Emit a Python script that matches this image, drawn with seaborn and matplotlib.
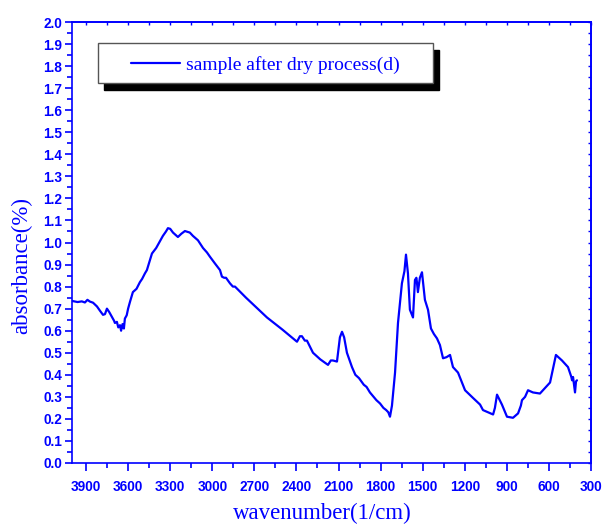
import matplotlib
matplotlib.use("Agg")
import matplotlib.pyplot as plt
import matplotlib.patches as mpatches
from matplotlib.ticker import MultipleLocator
import seaborn as sns
import pandas as pd

wavenumber = [4000, 3960, 3930, 3908, 3890, 3872, 3850, 3822, 3800, 3779,
              3765, 3751, 3735, 3715, 3700, 3694, 3680, 3670, 3658, 3650,
              3640, 3630, 3623, 3610, 3600, 3587, 3566, 3540, 3516, 3500,
              3480, 3466, 3430, 3400, 3387, 3352, 3330, 3316, 3300, 3280,
              3245, 3220, 3195, 3160, 3138, 3102, 3066, 3038, 3016, 2981,
              2945, 2931, 2915, 2902, 2874, 2853, 2838, 2760, 2660, 2610,
              2500, 2396, 2375, 2361, 2340, 2325, 2282, 2230, 2175, 2155,
              2140, 2111, 2090, 2075, 2060, 2040, 2004, 1980, 1954, 1920,
              1900, 1876, 1850, 1830, 1804, 1780, 1760, 1745, 1733, 1719,
              1697, 1676, 1648, 1630, 1619, 1605, 1591, 1569, 1555, 1545,
              1541, 1534, 1520, 1505, 1484, 1462, 1441, 1420, 1398, 1377,
              1355, 1330, 1305, 1284, 1248, 1198, 1141, 1091, 1070, 998,
              985, 970, 935, 899, 856, 820, 800, 792, 770, 749,
              714, 664, 628, 592, 550, 507, 464, 440, 435, 428,
              420, 414, 407, 400]
absorbance = [0.735, 0.730, 0.733, 0.728, 0.740, 0.732, 0.727, 0.710, 0.690, 0.672,
              0.675, 0.700, 0.685, 0.662, 0.645, 0.635, 0.640, 0.615, 0.625, 0.600,
              0.630, 0.610, 0.655, 0.670, 0.700, 0.730, 0.775, 0.790, 0.820, 0.835,
              0.860, 0.875, 0.950, 0.975, 0.990, 1.030, 1.050, 1.065, 1.062, 1.045,
              1.025, 1.040, 1.052, 1.045, 1.030, 1.010, 0.975, 0.955, 0.935, 0.905,
              0.875, 0.845, 0.840, 0.840, 0.815, 0.800, 0.800, 0.750, 0.690, 0.660,
              0.605, 0.550, 0.575, 0.575, 0.555, 0.555, 0.500, 0.470, 0.445, 0.465,
              0.465, 0.460, 0.570, 0.595, 0.570, 0.500, 0.435, 0.400, 0.385, 0.355,
              0.345, 0.320, 0.300, 0.285, 0.270, 0.250, 0.240, 0.230, 0.210, 0.260,
              0.410, 0.635, 0.815, 0.870, 0.945, 0.860, 0.695, 0.660, 0.830, 0.840,
              0.820, 0.775, 0.840, 0.865, 0.740, 0.695, 0.610, 0.585, 0.565, 0.535,
              0.475, 0.480, 0.490, 0.435, 0.410, 0.330, 0.295, 0.265, 0.240, 0.220,
              0.250, 0.310, 0.265, 0.210, 0.205, 0.225, 0.260, 0.285, 0.300, 0.330,
              0.320, 0.315, 0.340, 0.365, 0.490, 0.465, 0.435, 0.390, 0.375, 0.390,
              0.350, 0.320, 0.370, 0.375]
assert len(wavenumber) == len(absorbance)

series_label = "sample after dry process(d)"
x_label = "wavenumber(1/cm)"
y_label = "absorbance(%)"
x_ticks = [3900, 3600, 3300, 3000, 2700, 2400, 2100, 1800, 1500, 1200, 900, 600, 300]

df = pd.DataFrame({"wavenumber": wavenumber, "absorbance": absorbance})

sns.set_theme(style="white")
plt.rcParams["font.family"] = ["Liberation Sans", "DejaVu Sans"]

BLUE = "#0000ff"
fig = plt.figure(figsize=(6.04, 5.24), dpi=100)
ax = fig.add_axes([72 / 604, 1 - 463 / 524, 519 / 604, 441 / 524])

sns.lineplot(data=df, x="wavenumber", y="absorbance", ax=ax, color=BLUE,
             linewidth=1.6, estimator=None, label=series_label)

ax.set_xlim(4000, 300)
ax.set_ylim(0, 2.0)
ax.set_xticks(x_ticks)
ax.xaxis.set_minor_locator(MultipleLocator(150))
ax.yaxis.set_major_locator(MultipleLocator(0.1))
ax.yaxis.set_minor_locator(MultipleLocator(0.05))
ax.yaxis.set_major_formatter(matplotlib.ticker.FormatStrFormatter("%.1f"))

for s in ax.spines.values():
    s.set_color(BLUE)
    s.set_linewidth(1.2)

ax.tick_params(axis="both", which="both", direction="out", colors=BLUE,
               bottom=True, left=True, top=False, right=False)
ax.tick_params(axis="x", which="major", length=6, width=1.2, pad=6)
ax.tick_params(axis="x", which="minor", length=3.5, width=1.2)
ax.tick_params(axis="y", which="major", length=5, width=1.2, pad=2)
ax.tick_params(axis="y", which="minor", length=3.5, width=1.2)
for lab in ax.get_xticklabels() + ax.get_yticklabels():
    lab.set_fontweight("bold")
    lab.set_fontsize(9.8)
    lab.set_color(BLUE)

# inward ticks on top and right
sec_x = ax.secondary_xaxis("top")
sec_x.set_xticks(x_ticks)
sec_x.xaxis.set_minor_locator(MultipleLocator(150))
sec_x.tick_params(which="both", direction="in", length=2, width=1, colors=BLUE,
                  labeltop=False)
sec_x.spines["top"].set_color(BLUE)
sec_y = ax.secondary_yaxis("right")
sec_y.yaxis.set_major_locator(MultipleLocator(0.1))
sec_y.yaxis.set_minor_locator(MultipleLocator(0.05))
sec_y.tick_params(which="both", direction="in", length=2, width=1, colors=BLUE,
                  labelright=False)
sec_y.spines["right"].set_color(BLUE)

ax.set_xlabel(x_label, fontsize=16.5, color=BLUE, family="Liberation Serif")
ax.set_ylabel(y_label, fontsize=16.5, color=BLUE, family="Liberation Serif")
ax.xaxis.set_label_coords(0.482, -0.09)
ax.yaxis.set_label_coords(-0.077, 0.447)

# legend box with shadow
bx, by, bw, bh = 0.050, 0.8617, 0.6455, 0.0907
ax.add_patch(mpatches.Rectangle((bx + 0.0116, by - 0.0159), bw, bh, transform=ax.transAxes,
                                facecolor="black", edgecolor="black", zorder=5))
ax.add_patch(mpatches.Rectangle((bx, by), bw, bh, transform=ax.transAxes,
                                facecolor="white", edgecolor="#555555", linewidth=1.0,
                                zorder=6))
leg = ax.legend(loc="center", bbox_to_anchor=(bx + bw / 2, by + bh / 2 - 0.004),
                frameon=False, handlelength=2.5, handletextpad=0.3,
                prop={"family": "Liberation Serif", "size": 14})
leg.set_zorder(7)
for t in leg.get_texts():
    t.set_color(BLUE)

fig.savefig("out.png", dpi=100, facecolor="white")
